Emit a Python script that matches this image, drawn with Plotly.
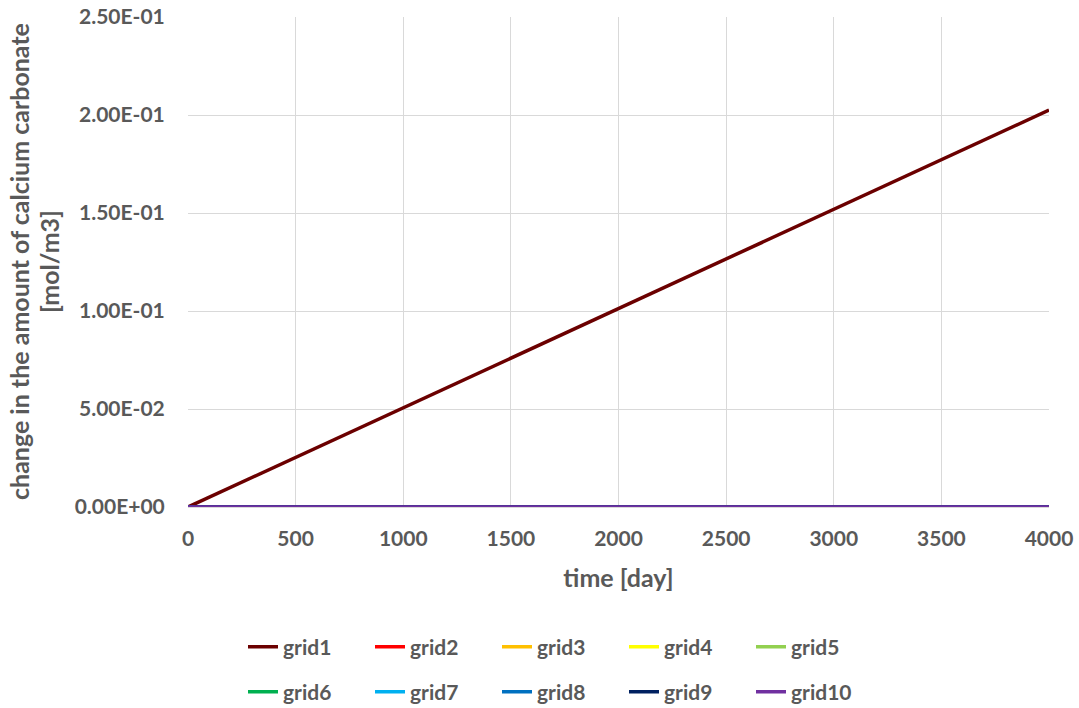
import plotly.graph_objects as go

time_days = [0, 500, 1000, 1500, 2000, 2500, 3000, 3500, 4000]
grid1 = [0.0, 0.0253, 0.0506, 0.0759, 0.1012, 0.1265, 0.1518, 0.1771, 0.2025]
grid2 = [0.0, 0.00002, 0.00004, 0.00006, 0.00008, 0.0001, 0.00012, 0.00014, 0.00016]
grid3 = [0.0, 0.000015, 0.00003, 0.000045, 0.00006, 0.000075, 0.00009, 0.000105, 0.00012]
grid4 = [0.0, 0.000012, 0.000024, 0.000036, 0.000048, 0.00006, 0.000072, 0.000084, 0.000096]
grid5 = [0.0, 0.00001, 0.00002, 0.00003, 0.00004, 0.00005, 0.00006, 0.00007, 0.00008]
grid6 = [0.0, 0.000009, 0.000018, 0.000027, 0.000036, 0.000045, 0.000054, 0.000063, 0.000072]
grid7 = [0.0, 0.000008, 0.000016, 0.000024, 0.000032, 0.00004, 0.000048, 0.000056, 0.000064]
grid8 = [0.0, 0.000007, 0.000014, 0.000021, 0.000028, 0.000035, 0.000042, 0.000049, 0.000056]
grid9 = [0.0, 0.000006, 0.000012, 0.000018, 0.000024, 0.00003, 0.000036, 0.000042, 0.000048]
grid10 = [0.0, 0.000005, 0.00001, 0.000015, 0.00002, 0.000025, 0.00003, 0.000035, 0.00004]

series_names = ["grid1", "grid2", "grid3", "grid4", "grid5",
                "grid6", "grid7", "grid8", "grid9", "grid10"]
series_values = [grid1, grid2, grid3, grid4, grid5, grid6, grid7, grid8, grid9, grid10]
series_colors = ["#6B0000", "#FF0000", "#FFC000", "#FFFF00", "#92D050",
                 "#00B050", "#00B0F0", "#0070C0", "#002060", "#7030A0"]

y_tickvals = [0.0, 0.05, 0.10, 0.15, 0.20, 0.25]
y_ticktext = ["0.00E+00", "5.00E-02", "1.00E-01", "1.50E-01", "2.00E-01", "2.50E-01"]
x_tickvals = [0, 500, 1000, 1500, 2000, 2500, 3000, 3500, 4000]

y_title_lines = ["change in the amount of calcium carbonate", "[mol/m3]"]
x_title = "time [day]"

FONT = "Lato"
GREY = "#595959"
L, R, T, B = 188, 30, 17, 201
PW = 1079 - L - R

fig = go.Figure()
for i, (name, vals, col) in enumerate(zip(series_names, series_values, series_colors)):
    fig.add_trace(go.Scatter(
        x=time_days, y=vals, mode="lines", name=name,
        line=dict(color=col, width=3.5),
        legend="legend" if i < 5 else "legend2",
    ))

legend_common = dict(orientation="h", xref="container", yref="container",
                     x=243 / 1079, xanchor="left", yanchor="middle",
                     font=dict(family=FONT, size=21, color=GREY, weight="bold"),
                     entrywidth=82, entrywidthmode="pixels", bgcolor="rgba(0,0,0,0)")

fig.update_layout(
    width=1079, height=708,
    margin=dict(l=L, r=R, t=T, b=B, autoexpand=False),
    paper_bgcolor="white", plot_bgcolor="white",
    font=dict(family=FONT, color=GREY, size=16),
    showlegend=True,
    legend=dict(legend_common, y=1 - 647 / 708),
    legend2=dict(legend_common, y=1 - 692 / 708),
)

fig.update_xaxes(
    range=[0, 4000], tickvals=x_tickvals, automargin=False,
    showgrid=True, gridcolor="#D9D9D9", gridwidth=1,
    showline=True, linecolor="#D9D9D9", linewidth=1,
    zeroline=False,
    ticks="outside", ticklen=13, tickcolor="rgba(0,0,0,0)",
    tickfont=dict(family=FONT, size=21, color=GREY, weight="bold"),
    title=dict(text=x_title, standoff=20,
               font=dict(family=FONT, size=25, color=GREY, weight="bold")),
)
fig.update_yaxes(
    range=[0, 0.25], tickvals=y_tickvals, ticktext=y_ticktext, automargin=False,
    showgrid=True, gridcolor="#D9D9D9", gridwidth=1,
    showline=False, zeroline=False,
    ticks="outside", ticklen=18, tickcolor="rgba(0,0,0,0)",
    tickfont=dict(family=FONT, size=21, color=GREY, weight="bold"),
)

for text, px in zip(y_title_lines, [19, 49]):
    fig.add_annotation(
        text=text, textangle=-90, showarrow=False,
        xref="paper", yref="paper", x=(px - L) / PW, y=0.5,
        xanchor="center", yanchor="middle",
        font=dict(family=FONT, size=25, color=GREY, weight="bold"),
    )

fig.write_html("out.html", config={"displayModeBar": False},
               post_script="document.body.style.margin='0';")
